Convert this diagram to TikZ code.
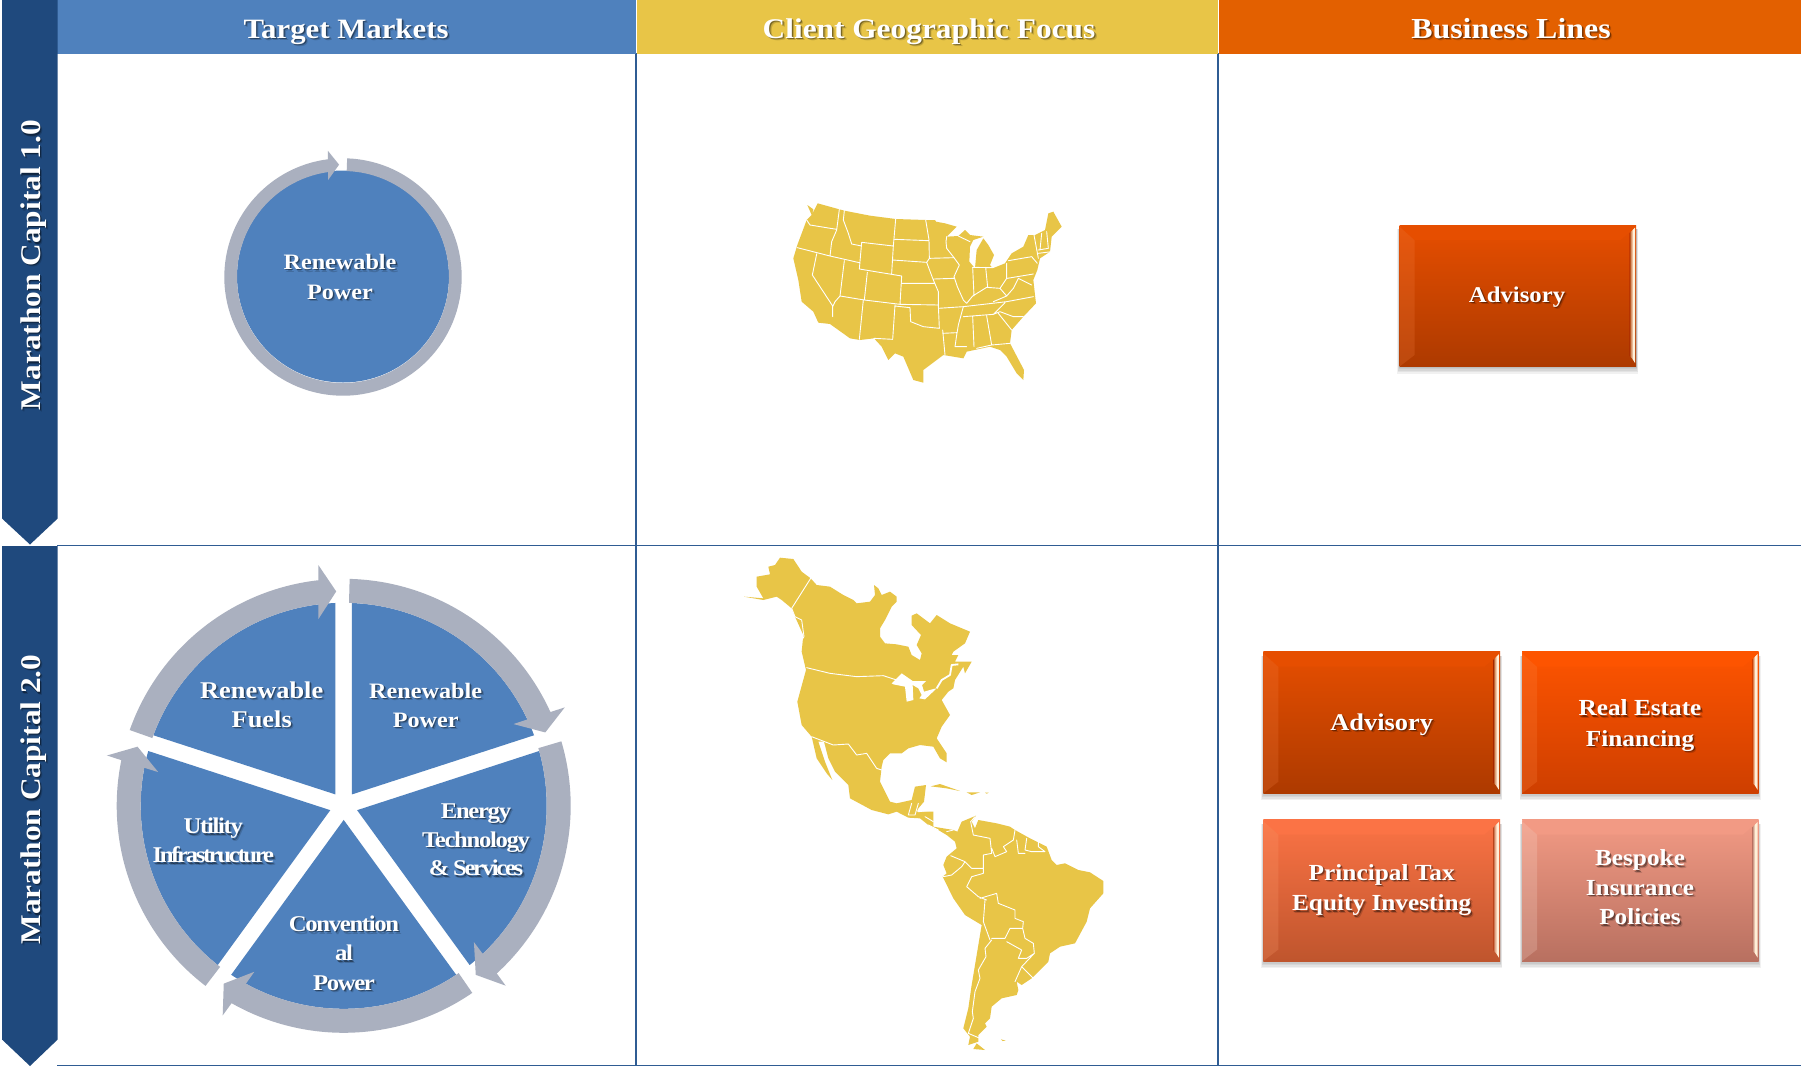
\documentclass[tikz,border=0pt]{standalone}
\usepackage{fontspec}
\setmainfont[FakeStretch=1.1]{Liberation Serif}
\newfontfamily\tightfont[FakeStretch=1.1,LetterSpace=-6]{Liberation Serif}
\newfontfamily\tighterfont[FakeStretch=1.1,LetterSpace=-10.5]{Liberation Serif}
\usetikzlibrary{calc}
\definecolor{bluehead}{HTML}{4F81BD}
\definecolor{banner}{HTML}{1F497D}
\definecolor{yellowhead}{HTML}{E8C547}
\definecolor{orangehead}{HTML}{E36000}
\definecolor{ringgray}{HTML}{AAB0BF}
\definecolor{gridblue}{HTML}{2F5C93}
\definecolor{warmwhite}{HTML}{FFF0D8}
\tikzset{
  x=1pt,y=-1pt,
  wedgefill/.style={fill=bluehead},
  ringfill/.style={fill=ringgray},
  labeltext/.style={text=white,align=center,inner sep=0pt},
  shadowtext/.style={text=black,align=center,inner sep=0pt},
  mapfill/.style={fill=yellowhead},
  mapline/.style={draw=white,line width=.9pt,line join=round,line cap=round},
  gridline/.style={draw=gridblue,line width=1.6pt},
}
% [options], name, position, size, leading, text
\newcommand{\shtext}[6][]{%
  \node[shadowtext,opacity=.16,font={\fontsize{#4}{#5}\selectfont\bfseries},#1] at ($(#3)+(2.4,2.4)$) {\strut #6\strut};
  \node[shadowtext,opacity=.38,font={\fontsize{#4}{#5}\selectfont\bfseries},#1] at ($(#3)+(1.3,1.3)$) {\strut #6\strut};
  \node[labeltext,font={\fontsize{#4}{#5}\selectfont\bfseries},#1] (#2) at (#3) {\strut #6\strut};
}
% x,y,body top,body bottom,highlight
\newcommand{\bevelbox}[5]{%
\begin{scope}[shift={(#1,#2)}]
  \foreach \g in {7,5.5,4,2.5,1}{\fill[black,opacity=.055] (-\g*.3,4) rectangle (236.7+\g*.3,141.6+\g);}
  \path[top color=#3,bottom color=#4] (0,0) rectangle (236.7,141.6);
  \fill[#5,opacity=.22] (0,0) -- (15,15) -- (15,130) -- (0,141.6) -- cycle;
  \path[top color=#3,middle color=#5,bottom color=#3] (0,1.5) -- (236.7,1.5) -- (221,15) -- (15,15) -- cycle;
  \path[left color=#4,right color=warmwhite] (230,8) -- (233,5) -- (233,134) -- (230,131) -- cycle;
  \fill[warmwhite] (233,5) -- (235.5,2.5) -- (235.5,138) -- (233,134) -- cycle;
\end{scope}}
\begin{document}
\begin{tikzpicture}
\useasboundingbox (0,0) rectangle (1801,1066);
\fill[white] (0,0) rectangle (1801,1066);
% grid
\draw[gridline] (636,53) -- (636,1066);
\draw[gridline] (1218,53) -- (1218,1066);
\draw[gridline] (57,545.5) -- (1801,545.5);
\draw[gridline,line width=1.2pt] (57,1065.4) -- (1801,1065.4);
% headers
\fill[bluehead] (55,0) rectangle (636,53.5);
\fill[yellowhead] (636.8,0) rectangle (1217.5,53.5);
\fill[orangehead] (1218.5,0) rectangle (1801,53.5);
\shtext{hTM}{346,32}{28}{32}{Target Markets}
\shtext{hCG}{929,32}{28.5}{32}{Client Geographic Focus}
\shtext{hBL}{1511,32}{29}{32}{Business Lines}
% banners
\fill[banner] (2,0) -- (57.7,0) -- (57.7,518.5) -- (30,544.5) -- (2,518.5) -- cycle;
\fill[banner] (2,546) -- (57.7,546) -- (57.7,1039.5) -- (30,1066) -- (2,1039.5) -- cycle;
\shtext[rotate=90]{b1}{33.5,265}{28.5}{33}{Marathon Capital 1.0}
\shtext[rotate=90]{b2}{33.5,799.5}{28.5}{33}{Marathon Capital 2.0}
% small wheel
\begin{scope}[shift={(343,277)},x=1pt,y=1pt]
  \fill[wedgefill] (0,.5) circle (106);
  \fill[ringfill] (88:118.7) arc (88:-262.7:118.7) -- (96.8:127) -- (92:112.4) -- (98.8:98) -- (98.1:106) arc (-261.9:88:106) -- cycle;
\end{scope}
\shtext{t1}{340,278.5}{22}{29.5}{Renewable\\Power}
% large wheel
\begin{scope}[shift={(343.7,805.8)},x=1pt,y=1pt]
  \foreach \t in {54,-18,-90,-162,126}{
    \fill[wedgefill] (\t:14.1) -- (\t-33.66:203) arc (\t-33.66:\t+33.66:203) -- cycle;
  }
  \foreach \s in {88.5,16.5,-55.5,-127.5,160.5}{
    \pgfmathsetmacro{\tp}{\s-68.5}
    \fill[ringfill] (\s:227) arc (\s:\tp+4.4:227) -- (\tp+4:242) -- (\tp:214.5) -- (\tp+5.7:188.5) -- (\tp+5.2:203) arc (\tp+5.2:\s:203) -- cycle;
  }
\end{scope}
\shtext{w1}{261.7,707}{24}{29}{Renewable\\Fuels}
\shtext{w2}{425.7,707}{22}{29}{Renewable\\Power}
\shtext{w3}{476,841.5}{22.5}{28.7}{\tightfont Energy\\\tightfont Technology\\\tighterfont \& Services}
\shtext{w4}{344,955}{22.5}{29.2}{\tightfont Convention\\\tightfont al\\\tightfont Power}
\shtext{w5}{213.3,842.5}{22.5}{29}{\tightfont Utility\\\tighterfont Infrastructure}
% US map
\begin{scope}[shift={(750,170)},x=.33333pt,y=-.33333pt]
  \fill[mapfill] (172,105)--(190,118)--(186,133)--(203,100)--(268,118)--(283,122)--(360,137)--(437,147)--(527,150)--(555,150)--(558,155)--(585,160)--(620,170)--(590,200)--(625,198)--(645,180)--(660,195)--(700,200)--(670,210)--(660,230)--(658,275)--(675,295)--(680,240)--(700,205)--(715,225)--(732,255)--(720,285)--(728,295)--(765,280)--(785,250)--(820,230)--(835,195)--(855,195)--(885,180)--(895,130)--(910,125)--(935,170)--(905,200)--(900,245)--(870,265)--(862,300)--(850,330)--(855,375)--(858,400)--(820,440)--(785,480)--(780,520)--(822,600)--(820,630)--(800,610)--(770,560)--(750,540)--(720,530)--(650,545)--(640,565)--(580,555)--(520,600)--(520,638)--(490,630)--(460,560)--(435,550)--(415,570)--(395,530)--(372,505)--(330,510)--(300,505)--(240,462)--(205,458)--(190,425)--(155,395)--(145,330)--(130,265)--(142,225)--(170,150)--(185,135)--cycle;
  \draw[mapline]
   (170,150)--(180,165)--(260,178) (268,118)--(260,180)--(245,215)--(240,258)
   (142,233)--(240,258)--(328,278) (200,252)--(187,315)--(248,408)--(248,440)
   (283,272)--(270,378)--(255,395)--(248,410)
   (283,122)--(280,150)--(295,190)--(305,222)--(335,228)
   (335,217)--(328,297)--(455,318) (335,217)--(430,228) (437,147)--(430,228)--(425,310)
   (352,307)--(343,390)--(270,378) (343,390)--(450,403) (340,390)--(328,508)
   (455,318)--(450,403)--(565,405) (435,405)--(428,508)--(372,505)
   (435,408)--(480,413)--(482,455)--(520,470)--(568,475)
   (435,208)--(535,212) (428,270)--(530,277) (455,340)--(555,340)
   (527,150)--(537,210)--(538,265)--(530,277)--(548,325)--(565,365)--(565,405)--(568,475)
   (538,265)--(612,263) (590,200)--(588,215)--(590,235)--(612,263)--(628,285)--(612,320)--(622,350)--(640,390)--(650,400)
   (552,327)--(612,325) (565,415)--(640,410)--(625,465)--(620,495)--(615,530)--(650,530)
   (578,490)--(620,488) (578,480)--(585,555)
   (640,410)--(770,395)--(850,380) (640,440)--(730,433)--(765,398)
   (668,440)--(672,530) (710,438)--(725,525) (680,535)--(725,525)--(780,520)
   (730,433)--(750,425)--(790,440)--(820,440) (745,430)--(785,480)
   (650,400)--(668,378)--(710,352)--(750,355)--(770,325)
   (730,395)--(770,378)--(750,355)
   (668,292)--(672,378) (707,292)--(713,352) (770,280)--(770,325) (668,292)--(728,293)
   (775,272)--(845,260)--(862,280) (772,325)--(850,312)
   (770,378)--(790,355)--(805,325)--(845,345)
   (852,195)--(865,265) (875,190)--(870,240) (890,185)--(895,235) (865,240)--(895,235) (865,250)--(905,245)
   (625,198)--(660,215);
\end{scope}
% Americas map
\begin{scope}[shift={(720,545)},x=.33333pt,y=-.33333pt]
  \fill[mapfill] (72,155)--(130,160)--(110,125)--(110,95)--(150,88)--(145,65)--(165,60)--(180,38)--(220,42)--(245,80)--(272,100)--(290,120)--(330,125)--(370,150)--(400,165)--(410,175)--(450,170)--(465,150)--(462,120)--(475,130)--(485,150)--(510,140)--(530,155)--(530,170)--(515,185)--(495,225)--(480,250)--(480,275)--(495,295)--(530,298)--(565,305)--(575,330)--(600,345)--(605,325)--(590,300)--(603,270)--(575,240)--(575,212)--(590,205)--(630,235)--(650,210)--(690,235)--(750,260)--(735,295)--(700,320)--(690,340)--(675,375)--(695,330)--(715,330)--(705,350)--(755,350)--(735,385)--(730,365)--(705,405)--(700,430)--(685,440)--(665,465)--(690,510)--(665,545)--(650,580)--(680,625)--(680,652)--(660,640)--(640,605)--(600,600)--(565,610)--(545,625)--(510,625)--(490,645)--(485,665)--(480,710)--(510,770)--(530,775)--(575,765)--(585,725)--(618,720)--(612,770)--(595,790)--(590,800)--(640,800)--(640,845)--(700,855)--(712,860)--(725,830)--(768,812)--(755,830)--(765,850)--(775,825)--(830,835)--(870,845)--(885,855)--(930,880)--(980,905)--(995,945)--(1010,960)--(1035,955)--(1075,975)--(1110,982)--(1150,1008)--(1150,1045)--(1110,1090)--(1100,1130)--(1065,1195)--(1020,1205)--(990,1225)--(985,1250)--(935,1300)--(905,1320)--(890,1310)--(895,1335)--(890,1350)--(845,1360)--(815,1385)--(810,1420)--(795,1435)--(800,1445)--(775,1470)--(775,1490)--(745,1500)--(750,1475)--(730,1450)--(745,1390)--(755,1320)--(785,1140)--(735,1110)--(700,1060)--(668,995)--(680,985)--(670,960)--(680,935)--(710,910)--(705,890)--(680,870)--(655,855)--(625,840)--(600,820)--(565,818)--(530,800)--(505,808)--(455,795)--(390,760)--(385,720)--(345,680)--(325,640)--(312,590)--(295,590)--(315,650)--(337,705)--(320,685)--(290,640)--(275,575)--(245,540)--(232,470)--(258,375)--(245,320)--(250,270)--(225,215)--(215,190)--(185,165)--(170,155)--(130,165)--cycle;
  \fill[mapfill] (632,724)--(660,717)--(720,738)--(680,730)--cycle;
  \fill[mapfill] (740,742)--(780,742)--(755,750)--cycle;
  \fill[mapfill] (795,743)--(806,743)--(800,746)--cycle;
  \fill[mapfill] (770,1495)--(795,1515)--(760,1512)--cycle;
  \fill[mapfill] (843,1483)--(857,1487)--(848,1488)--cycle;
  \fill[white] (515,415)--(545,385)--(578,408)--(618,408)--(606,420)--(612,440)--(640,432)--(650,430)--(615,463)--(598,460)--(605,450)--(595,430)--(578,420)--(580,465)--(560,470)--(555,425)--(520,418)--cycle;
  \draw[white,line width=1.8pt,line join=round] (650,430)--(665,405)--(690,390)--(695,360)--(715,358);
  \draw[mapline]
   (272,100)--(215,190)--(225,215)--(245,225)--(252,275)--(245,285)
   (260,368)--(330,385)--(410,395)--(490,392)--(530,405)
   (275,575)--(340,600)--(385,597)--(410,630)--(440,625)--(470,670)--(485,675)
   (575,775)--(565,810)--(585,810)--(595,775) (595,800)--(640,795) (615,815)--(640,830) (625,840)--(655,855) (680,860)--(700,855)
   (765,815)--(752,830)--(760,870)--(810,880)--(815,925)--(790,930)--(790,985)--(755,995)--(740,1025)--(775,1055)--(800,1065)
   (885,855)--(880,885)--(850,905)--(860,920)--(825,935)--(815,910)
   (890,885)--(895,925)--(915,925) (920,880)--(915,915)--(935,920)--(975,920)--(955,905)--(955,885)
   (692,932)--(735,950)--(725,965)--(695,990)--(670,995) (735,950)--(755,970)--(790,970)
   (780,1060)--(830,1045)--(835,1075)--(885,1095)--(885,1120)--(910,1130)--(908,1150)
   (795,1065)--(790,1130)--(810,1185)
   (815,1180)--(855,1180)--(870,1150)--(908,1150)--(915,1180)--(940,1195)--(943,1225)--(920,1240)--(895,1240)--(905,1215)--(860,1190)
   (943,1225)--(905,1265)--(938,1298) (905,1265)--(885,1310)
   (815,1185)--(795,1210)--(798,1235)--(775,1275)--(780,1300)--(765,1340)--(757,1400)--(760,1420)--(745,1465)--(780,1480);
\end{scope}
% business boxes
\definecolor{aT}{HTML}{E64E00}\definecolor{aB}{HTML}{AD3A00}\definecolor{aH}{HTML}{F58040}
\definecolor{rT}{HTML}{FD5400}\definecolor{rB}{HTML}{CE3F00}\definecolor{rH}{HTML}{FF8A45}
\definecolor{pT}{HTML}{FB7345}\definecolor{pB}{HTML}{BF552D}\definecolor{pH}{HTML}{FFA070}
\definecolor{bT}{HTML}{F29A84}\definecolor{bB}{HTML}{B87060}\definecolor{bH}{HTML}{FDE0D4}
\bevelbox{1399.5}{225}{aT}{aB}{aH}
\bevelbox{1263.3}{651.7}{aT}{aB}{aH}
\bevelbox{1522}{651.7}{rT}{rB}{rH}
\bevelbox{1263.3}{819.5}{pT}{pB}{pH}
\bevelbox{1522}{819.5}{bT}{bB}{bH}
\shtext{bA}{1517,296}{22.5}{30}{Advisory}
\shtext{bB1}{1381.7,724.5}{24}{30}{Advisory}
\shtext{bR}{1640,725}{23}{30.5}{Real Estate\\Financing}
\shtext{bP}{1381.7,889.5}{23}{30.5}{Principal Tax\\Equity Investing}
\shtext{bI}{1640,889.5}{23}{29.4}{Bespoke\\Insurance\\Policies}
\end{tikzpicture}
\end{document}
